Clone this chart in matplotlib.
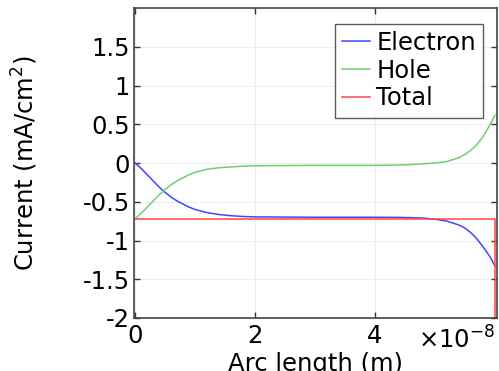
import matplotlib

matplotlib.use("Agg")
import matplotlib.pyplot as plt

# arc length in units of 1e-8 m
arc_length = [0.0, 0.1, 0.2, 0.3, 0.4, 0.5, 0.6, 0.7, 0.8, 0.9, 1.0, 1.2, 1.4, 1.6, 1.8, 2.0,
              3.0, 4.0, 4.4, 4.6, 4.8, 5.0, 5.2, 5.4, 5.5, 5.6, 5.7, 5.8, 5.85, 5.9, 5.95, 6.0]
electron = [0.0, -0.07, -0.15, -0.23, -0.31, -0.38, -0.44, -0.49, -0.53, -0.57, -0.60, -0.64,
            -0.665, -0.68, -0.69, -0.695, -0.70, -0.70, -0.702, -0.705, -0.71, -0.725, -0.75,
            -0.80, -0.84, -0.90, -0.98, -1.08, -1.135, -1.19, -1.255, -1.33]
hole = [-0.72, -0.65, -0.57, -0.49, -0.41, -0.34, -0.28, -0.23, -0.19, -0.15, -0.12, -0.08,
        -0.06, -0.05, -0.04, -0.035, -0.03, -0.03, -0.025, -0.02, -0.01, 0.0, 0.02,
        0.07, 0.11, 0.165, 0.24, 0.34, 0.405, 0.47, 0.54, 0.62]
total_x = [0.0, 6.0, 6.0]
total = [-0.72, -0.72, -2.5]

x_ticks = [0, 2, 4]
y_ticks = [-2, -1.5, -1, -0.5, 0, 0.5, 1, 1.5]
y_tick_labels = ["-2", "-1.5", "-1", "-0.5", "0", "0.5", "1", "1.5"]

plt.rcParams["font.family"] = "DejaVu Sans"
plt.rcParams["font.size"] = 17.5

fig = plt.figure(figsize=(4.99, 3.71), dpi=100)
ax = fig.add_axes([0.2685, 0.143, 0.727, 0.835])

ax.plot(arc_length, electron, color="#4444ff", linewidth=1.1, label="Electron")
ax.plot(arc_length, hole, color="#6fd06f", linewidth=1.1, label="Hole")
ax.plot(total_x, total, color="#ff4444", linewidth=1.1, label="Total")

ax.set_xlim(-0.02, 6.03)
ax.set_ylim(-2, 2)
ax.set_xticks(x_ticks)
ax.set_xticklabels([str(t) for t in x_ticks])
ax.set_yticks(y_ticks)
ax.set_yticklabels(y_tick_labels)
ax.tick_params(direction="in", top=True, right=True, length=4, width=1, colors="#333333",
               labelcolor="black")
ax.tick_params(axis="x", pad=4)
ax.tick_params(axis="y", pad=3)
ax.grid(True, color="#eeeeee", linewidth=0.8)
for spine in ax.spines.values():
    spine.set_color("#444444")
    spine.set_linewidth(1.2)

ax.set_xlabel("Arc length (m)", labelpad=3)
ax.set_ylabel("Current (mA/cm$^2$)", labelpad=31)
fig.text(495 / 499, 1 - 326 / 371, "×10$^{-8}$", ha="right", va="top")

legend = ax.legend(loc="upper right", bbox_to_anchor=(0.963, 0.95), frameon=True, fancybox=False,
                   handlelength=1.15, handletextpad=0.25, borderpad=0.3, labelspacing=0.15,
                   borderaxespad=0.0)
legend.get_frame().set_edgecolor("#333333")
legend.get_frame().set_linewidth(1.0)

fig.savefig("out.png", dpi=100)
